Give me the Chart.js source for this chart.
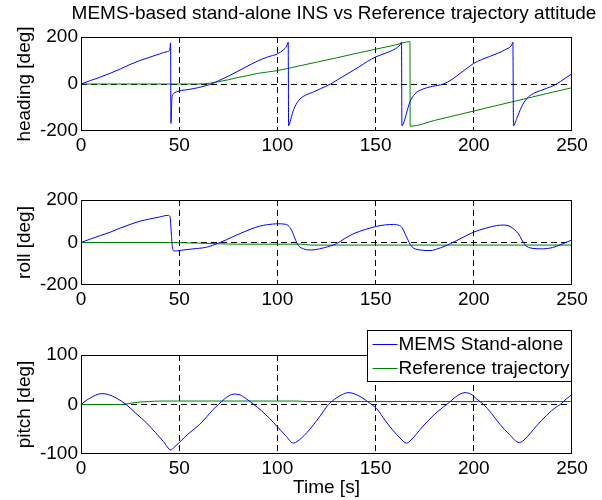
<!DOCTYPE html>
<html>
<head>
<meta charset="utf-8">
<title>MEMS-based stand-alone INS vs Reference trajectory attitude</title>
<script src="https://cdn.jsdelivr.net/npm/chart.js@4"></script>
<style>
  html, body { margin: 0; padding: 0; background: #fff; }
  #figure { position: relative; width: 602px; height: 500px; overflow: hidden; }
  #figure canvas { position: absolute; left: 0; }
</style>
</head>
<body>
<div id="figure">
  <canvas id="headingChart" width="602" height="160" style="top:0px"></canvas>
  <canvas id="rollChart" width="602" height="150" style="top:160px"></canvas>
  <canvas id="pitchChart" width="602" height="190" style="top:310px"></canvas>
</div>

<script>
/* --------------------------------------------
   DATA
--------------------------------------------- */
const figureTitle = "MEMS-based stand-alone INS vs Reference trajectory attitude";
const seriesLabels = ["MEMS Stand-alone", "Reference trajectory"];
const timeTicks = [0, 50, 100, 150, 200, 250];

// heading [deg]
const headingMemsTime = [0, 5, 10, 15, 20, 25, 30, 35, 40, 44, 45.2, 45.6, 45.8, 46.3, 47, 50, 55, 60, 64, 67, 70, 75, 80, 85, 90, 95, 100, 103, 104.8, 105.5, 105.7, 106.5, 108, 110, 112, 115, 118, 122, 127, 132, 137, 142, 146, 150, 155, 160, 162.4, 163.2, 163.4, 164.5, 165.7, 167.4, 170, 174, 179, 184.5, 189, 193, 197, 200, 204, 208, 212, 216, 219.3, 219.9, 220.2, 221.9, 224.4, 227, 230.4, 234, 237.2, 241, 244, 247, 250];
const headingMems = [0, 15, 30, 46, 64, 83, 100, 114, 128, 138, 143, 175, -168, -60, -42, -30, -23, -15, -6, 2, 14, 33, 55, 77, 98, 115, 128, 145, 162, 178, -178, -160, -115, -80, -60, -45, -35, -20, 0, 25, 50, 75, 97, 115, 131, 150, 166, 178, -178, -160, -125, -78, -42, -22, -10, 0, 20, 45, 70, 88, 104, 117, 130, 146, 166, 178, -178, -146, -96, -62, -40, -28, -18, -5, 10, 27, 44];
const headingRefTime = [0, 60, 63, 66, 70, 75, 80, 85, 90, 95, 100, 110, 120, 130, 140, 150, 160, 167.5, 167.6, 180, 190, 200, 210, 220, 230, 240, 250];
const headingRef = [0, 0, 1, 4, 10, 18, 28, 36, 45, 51, 57, 75, 93, 111, 130, 148, 166, 180, -180, -155, -135, -115, -95, -75, -55, -35, -16];

// roll [deg]
const rollMemsTime = [0, 5, 10, 15, 20, 25, 30, 35, 40, 44.4, 45.3, 46, 46.5, 47.5, 50, 57, 64, 70, 74, 78, 83, 87, 91, 95, 100, 104, 105.5, 107.3, 109, 110.7, 113.3, 116, 119, 124, 130, 134, 138.7, 145, 150.5, 155, 159, 162, 163.5, 165.8, 168.4, 172.6, 177.7, 183, 188, 194, 200, 206, 211.7, 215.5, 218.4, 220.5, 222.7, 226.1, 229.5, 235, 240, 244, 250];
const rollMems = [0, 17, 33, 49, 68, 85, 100, 111, 120, 128, 122, 40, -20, -40, -38, -30, -22, -3, 13, 30, 50, 65, 77, 84, 88, 86, 80, 57, 17, -14, -30, -35, -34, -24, -6, 17, 41, 62, 76, 83, 85, 80, 70, 25, -19, -35, -38, -25, -6, 22, 49, 67, 80, 82, 76, 62, 41, -11, -27, -30, -24, -11, 12];
const rollRefTime = [0, 45, 50, 60, 70, 80, 100, 112, 117, 130, 250];
const rollRef = [0, 0, -1, -3, -6, -8, -8, -8, -12, -12, -12];

// pitch [deg]
const pitchMemsTime = [0, 3, 6, 9, 11.2, 14, 18, 23, 28, 33.3, 38, 42, 45.8, 47, 50, 55, 60.5, 64, 67.3, 70, 73, 75.5, 78, 80.5, 84, 88, 92, 96, 100, 104, 108.2, 110, 115, 121.8, 126, 130, 133, 136, 139, 143, 148, 150.5, 155, 159, 162.5, 165.8, 168, 174.3, 180, 184.5, 186.2, 190, 193, 195.5, 198.5, 201.5, 205, 209, 213.3, 218, 223.2, 225.5, 232, 237, 242, 244, 247, 250];
const pitchMems = [0, 9, 16, 21, 22, 20, 13, 0, -18, -37, -57, -75, -92, -88, -77, -58, -40, -25, -10, 0, 11, 18, 21, 20, 12, 0, -13, -28, -45, -62, -78, -75, -57, -23, 0, 13, 20, 24, 22, 14, 0, -8, -33, -53, -68, -78, -72, -43, -20, -5, 0, 13, 21, 24, 21, 11, 0, -18, -40, -60, -77, -72, -43, -22, -5, 0, 11, 20];
const pitchRefTime = [0, 20, 23, 26, 30, 35, 40, 60, 110, 115, 250];
const pitchRef = [0, 0, 1, 3, 5, 6, 7, 7, 7, 6, 6];

/* --------------------------------------------
   GLOBAL DEFAULTS
--------------------------------------------- */
const fontFamily = "'Liberation Sans', Arial, sans-serif";
Chart.defaults.font.family = fontFamily;
Chart.defaults.font.size = 19;
Chart.defaults.color = "#000";

const memsColor = "#0000ff";
const refColor = "#008000";

function toPoints(times, values) {
  return times.map((t, i) => ({ x: t, y: values[i] }));
}

// dashed grid only inside the box, the box edges are drawn solid
function innerGridColor(ctx) {
  const scale = ctx.scale;
  const v = ctx.tick ? ctx.tick.value : null;
  return v === scale.min || v === scale.max ? "rgba(0,0,0,0)" : "#000";
}

/* --------------------------------------------
   PLUGINS: axes box, figure title, legend
--------------------------------------------- */
const framePlugin = {
  id: "frame",
  afterDatasetsDraw(chart) {
    const { ctx, chartArea: a } = chart;
    const l = Math.round(a.left) + 0.5, t = Math.round(a.top) + 0.5;
    const r = Math.round(a.right) - 0.5, b = Math.round(a.bottom) - 0.5;
    ctx.save();
    ctx.strokeStyle = "#000";
    ctx.lineWidth = 1;
    ctx.strokeRect(l, t, r - l, b - t);
    ctx.restore();
  },
};

const figTitle = {
  id: "figTitle",
  afterDraw(chart) {
    const { ctx } = chart;
    ctx.save();
    ctx.font = "19px " + fontFamily;
    ctx.fillStyle = "#000";
    ctx.textAlign = "center";
    ctx.textBaseline = "middle";
    ctx.fillText(figureTitle, 334, 14);
    ctx.restore();
  },
};

const boxLegend = {
  id: "boxLegend",
  afterDraw(chart) {
    const { ctx, chartArea: a } = chart;
    const w = 204, h = 51;
    const x = Math.round(a.right) - w - 0.5;
    const y = Math.round(a.top) - 25 + 0.5;

    ctx.save();
    ctx.fillStyle = "#fff";
    ctx.fillRect(x, y, w, h);
    ctx.strokeStyle = "#000";
    ctx.lineWidth = 1;
    ctx.strokeRect(x, y, w, h);

    ctx.font = "19px " + fontFamily;
    ctx.textBaseline = "middle";
    chart.data.datasets.forEach((ds, i) => {
      const rowY = Math.round(y + 13 + i * 24) + 0.5;
      ctx.strokeStyle = ds.borderColor;
      ctx.beginPath();
      ctx.moveTo(x + 5, rowY);
      ctx.lineTo(x + 30, rowY);
      ctx.stroke();
      ctx.fillStyle = "#000";
      ctx.fillText(ds.label, x + 31, rowY);
    });
    ctx.restore();
  },
};

/* --------------------------------------------
   CREATE ONE SUBPLOT
--------------------------------------------- */
function makePanel(canvasId, cfg) {
  const datasets = [
    { label: seriesLabels[0], data: toPoints(cfg.memsTime, cfg.mems), borderColor: memsColor },
    { label: seriesLabels[1], data: toPoints(cfg.refTime, cfg.ref), borderColor: refColor },
  ].map((d) => ({
    ...d,
    borderWidth: 1,
    pointRadius: 0,
    cubicInterpolationMode: "monotone",
    fill: false,
  }));

  const plugins = [framePlugin];
  if (cfg.title) plugins.push(figTitle);
  if (cfg.legend) plugins.push(boxLegend);

  return new Chart(document.getElementById(canvasId), {
    type: "line",
    data: { datasets },
    plugins,
    options: {
      responsive: false,
      animation: false,
      layout: { padding: cfg.padding },
      plugins: {
        legend: { display: false },
        tooltip: { enabled: false },
        title: { display: false },
      },
      scales: {
        x: {
          type: "linear",
          min: 0,
          max: 250,
          afterBuildTicks: (scale) => {
            scale.ticks = timeTicks.map((v) => ({ value: v }));
          },
          afterFit: (scale) => {
            scale.height = cfg.xHeight;
          },
          ticks: { autoSkip: false, maxRotation: 0, padding: 3 },
          grid: { color: innerGridColor, lineWidth: 1, drawTicks: false },
          border: { display: false, dash: [6, 4] },
          title: cfg.xTitle
            ? { display: true, text: cfg.xTitle, font: { size: 19, lineHeight: 1.2 }, padding: { top: 0, bottom: 1 } }
            : { display: false },
        },
        y: {
          min: cfg.yTicks[0],
          max: cfg.yTicks[cfg.yTicks.length - 1],
          afterBuildTicks: (scale) => {
            scale.ticks = cfg.yTicks.map((v) => ({ value: v }));
          },
          afterFit: (scale) => {
            scale.width = 81;
          },
          ticks: { padding: 3 },
          grid: { color: innerGridColor, lineWidth: 1, drawTicks: false },
          border: { display: false, dash: [6, 4] },
          title: {
            display: true,
            text: cfg.yTitle,
            font: { size: 19, lineHeight: 1.2 },
            padding: { top: 13.5, bottom: 0 },
          },
        },
      },
    },
  });
}

/* --------------------------------------------
   INIT
--------------------------------------------- */
makePanel("headingChart", {
  title: true,
  memsTime: headingMemsTime, mems: headingMems,
  refTime: headingRefTime, ref: headingRef,
  yTicks: [-200, 0, 200],
  yTitle: "heading [deg]",
  xHeight: 25,
  padding: { left: 0, right: 30, top: 37, bottom: 4 },
});

makePanel("rollChart", {
  memsTime: rollMemsTime, mems: rollMems,
  refTime: rollRefTime, ref: rollRef,
  yTicks: [-200, 0, 200],
  yTitle: "roll [deg]",
  xHeight: 25,
  padding: { left: 0, right: 30, top: 40, bottom: 0 },
});

makePanel("pitchChart", {
  memsTime: pitchMemsTime, mems: pitchMems,
  refTime: pitchRefTime, ref: pitchRef,
  yTicks: [-100, 0, 100],
  yTitle: "pitch [deg]",
  xTitle: "Time [s]",
  xHeight: 46,
  legend: true,
  padding: { left: 0, right: 30, top: 45, bottom: 0 },
});
</script>
</body>
</html>
